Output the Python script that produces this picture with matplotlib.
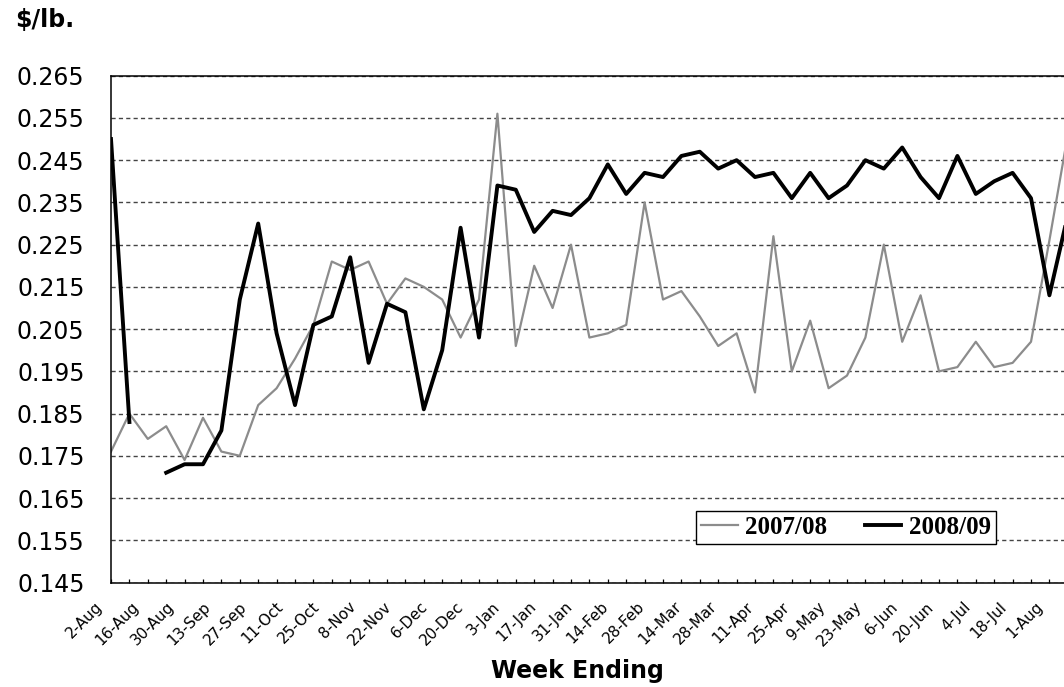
import numpy as np
import matplotlib
matplotlib.use("Agg")
import matplotlib.pyplot as plt
from matplotlib.ticker import FormatStrFormatter
from matplotlib.transforms import blended_transform_factory

# week ending labels (every second week)
weeks = ['2-Aug', '16-Aug', '30-Aug', '13-Sep', '27-Sep', '11-Oct', '25-Oct',
         '8-Nov', '22-Nov', '6-Dec', '20-Dec', '3-Jan', '17-Jan', '31-Jan',
         '14-Feb', '28-Feb', '14-Mar', '28-Mar', '11-Apr', '25-Apr', '9-May',
         '23-May', '6-Jun', '20-Jun', '4-Jul', '18-Jul', '1-Aug']

# $/lb. weekly prices
s0708 = [0.176, 0.185, 0.179, 0.182, 0.174, 0.184, 0.176, 0.175, 0.187, 0.191,
         0.198, 0.206, 0.221, 0.219, 0.221, 0.211, 0.217, 0.215, 0.212, 0.203,
         0.212, 0.256, 0.201, 0.220, 0.210, 0.225, 0.203, 0.204, 0.206, 0.235,
         0.212, 0.214, 0.208, 0.201, 0.204, 0.190, 0.227, 0.195, 0.207, 0.191,
         0.194, 0.203, 0.225, 0.202, 0.213, 0.195, 0.196, 0.202, 0.196, 0.197,
         0.202, 0.226, 0.251]
s0809 = [0.250, 0.183, np.nan, 0.171, 0.173, 0.173, 0.181, 0.212, 0.230, 0.204,
         0.187, 0.206, 0.208, 0.222, 0.197, 0.211, 0.209, 0.186, 0.200, 0.229,
         0.203, 0.239, 0.238, 0.228, 0.233, 0.232, 0.236, 0.244, 0.237, 0.242,
         0.241, 0.246, 0.247, 0.243, 0.245, 0.241, 0.242, 0.236, 0.242, 0.236,
         0.239, 0.245, 0.243, 0.248, 0.241, 0.236, 0.246, 0.237, 0.240, 0.242,
         0.236, 0.213, 0.232]

W, H = 1064, 687
fig = plt.figure(figsize=(W / 100, H / 100), dpi=100)
nx = 53
ax = fig.add_axes([111 / W, 1 - 582.5 / H, nx * 18.4 / W, 506.8 / H])

x = np.arange(len(s0708))
ax.plot(x, s0708, color='#8c8c8c', lw=1.6, label='2007/08')
ax.plot(x, s0809, color='black', lw=2.8, label='2008/09')

ax.set_xlim(0, nx)
ax.set_ylim(0.145, 0.265)
ax.set_yticks(np.arange(0.145, 0.2651, 0.01))
ax.yaxis.set_major_formatter(FormatStrFormatter('%.3f'))
ax.tick_params(axis='y', length=0, pad=19, labelsize=17)
ax.yaxis.grid(True, linestyle=(0, (3, 2.3)), color='#444444', lw=1)
ax.set_axisbelow(True)

ax.set_xticks(x)
ax.set_xticklabels([])
ax.tick_params(axis='x', direction='in', length=3, width=0.9)

for sp in ['left', 'top', 'bottom']:
    ax.spines[sp].set_linewidth(1.1)
ax.spines['right'].set_visible(False)

# rotated week labels
trans = blended_transform_factory(ax.transData, ax.transAxes)
lab_pos = np.linspace(-0.6, 50.5, len(weeks))
for p, lab in zip(lab_pos, weeks):
    ax.text(p, -0.043, lab, transform=trans, rotation=45, ha='right',
            va='center', rotation_mode='anchor', fontsize=11, clip_on=False)

fig.text(15 / W, 1 - 20 / H, '$/lb.', fontweight='bold', fontsize=17, va='center')
fig.text(577 / W, 1 - 671 / H, 'Week Ending', fontweight='bold', fontsize=17,
         ha='center', va='center')

leg = ax.legend(loc='center', bbox_to_anchor=(846 / W, 1 - 527.5 / H),
                bbox_transform=fig.transFigure, ncol=2,
                prop=dict(family='Liberation Serif', weight='bold', size=18),
                fancybox=False, edgecolor='black', framealpha=1,
                handlelength=1.45, handletextpad=0.3, columnspacing=1.5,
                borderpad=0.2, borderaxespad=0)
leg.get_frame().set_linewidth(1.0)

fig.savefig('out.png', dpi=100)
